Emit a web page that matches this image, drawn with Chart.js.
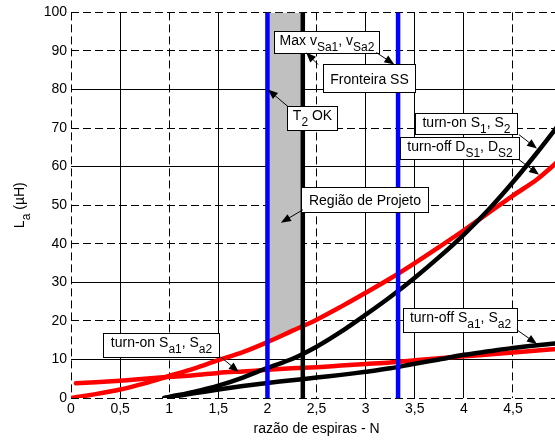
<!DOCTYPE html>
<html><head><meta charset="utf-8">
<script src="https://cdn.jsdelivr.net/npm/chart.js@4.4.0/dist/chart.umd.min.js"></script>
<style>html,body{margin:0;padding:0;background:#fff;overflow:hidden;width:555px;height:441px}canvas{display:block}</style>
</head><body>
<canvas id="c" width="569" height="441"></canvas>
<script>
// ---------- data ----------
const xTickLabels = ['0','0,5','1','1,5','2','2,5','3','3,5','4','4,5','5'];
const yTickLabels = ['0','10','20','30','40','50','60','70','80','90','100'];
const xTitle = 'razão de espiras - N';

// turn-off D_S1, D_S2 (red, upper)
const nTurnOffD  = [0,0.25,0.5,0.75,1,1.25,1.5,1.75,2,2.25,2.5,2.75,3,3.25,3.5,3.75,4,4.25,4.5,4.75,5];
const laTurnOffD = [0,1,2.2,3.8,5.7,7.6,9.8,11.9,14.5,17.4,20.3,23.7,27.3,31,35,39.2,43.5,48,52.5,56.8,62.3];
// turn-on S_a1, S_a2 (red, lower)
const nTurnOnSa  = [0.05,0.25,0.5,0.75,1,1.25,1.5,1.75,2,2.25,2.5,2.75,3,3.25,3.5,3.75,4,4.25,4.5,4.75,5];
const laTurnOnSa = [3.8,4.1,4.5,5,5.5,5.9,6.5,6.9,7.3,7.7,8,8.4,8.8,9.2,9.8,10.3,10.8,11.3,11.8,12.3,12.8];
// turn-on S1, S2 (black, upper)
const nTurnOnS   = [0.95,1,1.25,1.5,1.75,2,2.25,2.5,2.75,3,3.25,3.5,3.75,4,4.25,4.5,4.75,5];
const laTurnOnS  = [0,0.3,1.6,3.2,5.3,7.8,10.1,13.3,17.2,21.6,26.2,31.2,36.6,42.4,48.8,56,63.8,72];
// turn-off S_a1, S_a2 (black, lower)
const nTurnOffSa  = [0.95,1,1.25,1.5,1.75,2,2.25,2.5,2.75,3,3.25,3.5,3.75,4,4.25,4.5,4.75,5];
const laTurnOffSa = [0,0.2,1.2,2.2,3.1,3.9,4.6,5.3,6,6.8,7.7,8.9,10,11.2,12.1,13,13.7,14.3];

// vertical limits
const nT2ok = 2.0;       // blue
const nMaxVSa = 2.36;    // black
const nFronteira = 3.33; // blue
const laRange = [0, 100];

// design region (grey) lower edge
const shadeN  = [2.0, 2.25, 2.36];
const shadeLa = [14.5, 17.4, 18.6];

// ---------- styles ----------
const FONT = "'Liberation Sans', Arial, sans-serif";
Chart.defaults.font.family = FONT;
Chart.defaults.color = '#000';
const xDashed = [1,0,1,0,1,1,0,0,0,1,1];
const yDashed = [1,0,1,0,1,1,0,1,0,1,1];
const DASH = [8,4];

const pts = (xs, ys) => xs.map((v,i) => ({x:v, y:ys[i]}));
const vline = v => laRange.map(l => ({x:v, y:l}));

const curve = (xs, ys, color, order) => ({
  data: pts(xs, ys), borderColor: color, borderWidth: 4.5, pointRadius: 0,
  tension: 0.3, fill: false, order, borderCapStyle: 'round', borderJoinStyle: 'round'
});
const vdata = (v, color) => ({
  data: vline(v), borderColor: color, borderWidth: 4.5, pointRadius: 0, fill: false, order: 0, clip: 0
});

// ---------- annotations (positions in data units) ----------
const notes = [
  {parts:[['Max v'],['Sa1',1],[', v'],['Sa2',1]], box:[2.065,95.06,3.139,89.35], arrow:[3.108,89.6,3.292,86.5]},
  {parts:[['Fronteira SS']], box:[2.566,86.49,3.507,79.48], arrow:[2.515,86.49,2.393,89.6]},
  {parts:[['T'],['2',1],[' OK']], box:[2.198,75.84,2.710,69.61], arrow:[2.209,75.58,2.004,80.0]},
  {parts:[['Região de Projeto']], box:[2.342,54.81,3.630,48.31], arrow:[2.362,48.83,2.137,45.45]},
  {parts:[['turn-on S'],['1',1],[', S'],['2',1]], box:[3.507,74.03,4.540,68.57], arrow:[4.560,68.31,4.744,64.68]},
  {parts:[['turn-off D'],['S1',1],[', D'],['S2',1]], box:[3.354,67.79,4.560,62.08], arrow:[4.560,61.82,4.765,57.92]},
  {parts:[['turn-on S'],['a1',1],[', S'],['a2',1]], box:[0.327,16.88,1.503,10.65], arrow:[1.524,10.65,1.708,6.75]},
  {parts:[['turn-off S'],['a1',1],[', S'],['a2',1]], box:[3.384,23.38,4.540,17.14], arrow:[4.540,17.66,4.744,14.03]}
];

function drawParts(ctx, parts, x, base) {
  let cx = x;
  parts.forEach(([t, sub]) => {
    ctx.font = (sub ? '12px ' : '14px ') + FONT;
    ctx.fillText(t, cx, sub ? base + 6 : base);
    cx += ctx.measureText(t).width;
  });
  return cx - x;
}
function partsWidth(ctx, parts) {
  let w = 0;
  parts.forEach(([t, sub]) => { ctx.font = (sub ? '12px ' : '14px ') + FONT; w += ctx.measureText(t).width; });
  return w;
}
function arrow(ctx, x1, y1, x2, y2) {
  const a = Math.atan2(y2 - y1, x2 - x1), L = 10, W = 4;
  ctx.strokeStyle = '#000'; ctx.lineWidth = 1;
  ctx.beginPath(); ctx.moveTo(x1, y1);
  ctx.lineTo(x2 - Math.cos(a) * L * 0.8, y2 - Math.sin(a) * L * 0.8); ctx.stroke();
  ctx.fillStyle = '#000';
  ctx.beginPath();
  ctx.moveTo(x2, y2);
  ctx.lineTo(x2 - L * Math.cos(a) + W * Math.sin(a), y2 - L * Math.sin(a) - W * Math.cos(a));
  ctx.lineTo(x2 - L * Math.cos(a) - W * Math.sin(a), y2 - L * Math.sin(a) + W * Math.cos(a));
  ctx.closePath(); ctx.fill();
}

const notesPlugin = {
  id: 'notes',
  afterDatasetsDraw(chart) {
    const {ctx, scales: {x, y}, chartArea} = chart;
    ctx.save();
    notes.forEach(n => {
      const l = Math.round(x.getPixelForValue(n.box[0])) + 0.5;
      const t = Math.round(y.getPixelForValue(n.box[1])) + 0.5;
      const r = Math.round(x.getPixelForValue(n.box[2])) + 0.5;
      const b = Math.round(y.getPixelForValue(n.box[3])) + 0.5;
      ctx.fillStyle = '#fff';
      ctx.fillRect(l, t, r - l, b - t);
      ctx.strokeStyle = '#000'; ctx.lineWidth = 1;
      ctx.strokeRect(l, t, r - l, b - t);
      ctx.fillStyle = '#000';
      ctx.textBaseline = 'alphabetic'; ctx.textAlign = 'left';
      const hasSub = n.parts.some(p => p[1]);
      const base = hasSub ? t + 13.5 : (t + b) / 2 + 5;
      const w = partsWidth(ctx, n.parts);
      drawParts(ctx, n.parts, (l + r) / 2 - w / 2, base);
    });
    notes.forEach(n => {
      arrow(ctx, x.getPixelForValue(n.arrow[0]), y.getPixelForValue(n.arrow[1]),
                 x.getPixelForValue(n.arrow[2]), y.getPixelForValue(n.arrow[3]));
    });
    // y-axis title: L_a (µH)
    const parts = [['L'],['a',1],[' (\u00b5H)']];
    const w = partsWidth(ctx, parts);
    ctx.translate(chartArea.left - 52, (chartArea.top + chartArea.bottom) / 2);
    ctx.rotate(-Math.PI / 2);
    ctx.fillStyle = '#000';
    drawParts(ctx, parts, -w / 2, 5);
    ctx.restore();
  }
};

new Chart(document.getElementById('c'), {
  type: 'line',
  data: {
    datasets: [
      {data: pts(shadeN, shadeLa), borderWidth: 0, borderColor: 'rgba(0,0,0,0)', backgroundColor: '#c0c0c0',
       pointRadius: 0, fill: 'end', order: 5, tension: 0},
      curve(nTurnOffD, laTurnOffD, '#ff0000', 3),
      curve(nTurnOnSa, laTurnOnSa, '#ff0000', 3),
      curve(nTurnOnS, laTurnOnS, '#000000', 2),
      curve(nTurnOffSa, laTurnOffSa, '#000000', 2),
      vdata(nT2ok, '#0000ff'),
      vdata(nFronteira, '#0000ff'),
      vdata(nMaxVSa, '#000000')
    ]
  },
  options: {
    responsive: false, animation: false, devicePixelRatio: 1,
    layout: {padding: {top: 6, right: 0, bottom: 1.4, left: 0}},
    plugins: {legend: {display: false}, tooltip: {enabled: false}},
    scales: {
      x: {
        type: 'linear', min: 0, max: 5,
        ticks: {stepSize: 0.5, padding: 3, maxRotation: 0, autoSkip: false, font: {size: 14}, color: '#000',
                callback: (v, i) => xTickLabels[i]},
        grid: {color: '#000', lineWidth: 1, drawTicks: false},
        border: {display: false, dash: ctx => xDashed[ctx.index] ? DASH : []},
        title: {display: true, text: xTitle, color: '#000', font: {size: 14}, padding: {top: 0, bottom: 2}}
      },
      y: {
        type: 'linear', min: 0, max: 100,
        ticks: {stepSize: 10, padding: 4, font: {size: 14}, color: '#000', callback: (v, i) => yTickLabels[i]},
        grid: {color: '#000', lineWidth: 1, drawTicks: false},
        border: {display: false, dash: ctx => yDashed[ctx.index] ? DASH : []},
        afterFit: s => { s.width = 71; }
      }
    }
  },
  plugins: [notesPlugin]
});
</script>
</body></html>
